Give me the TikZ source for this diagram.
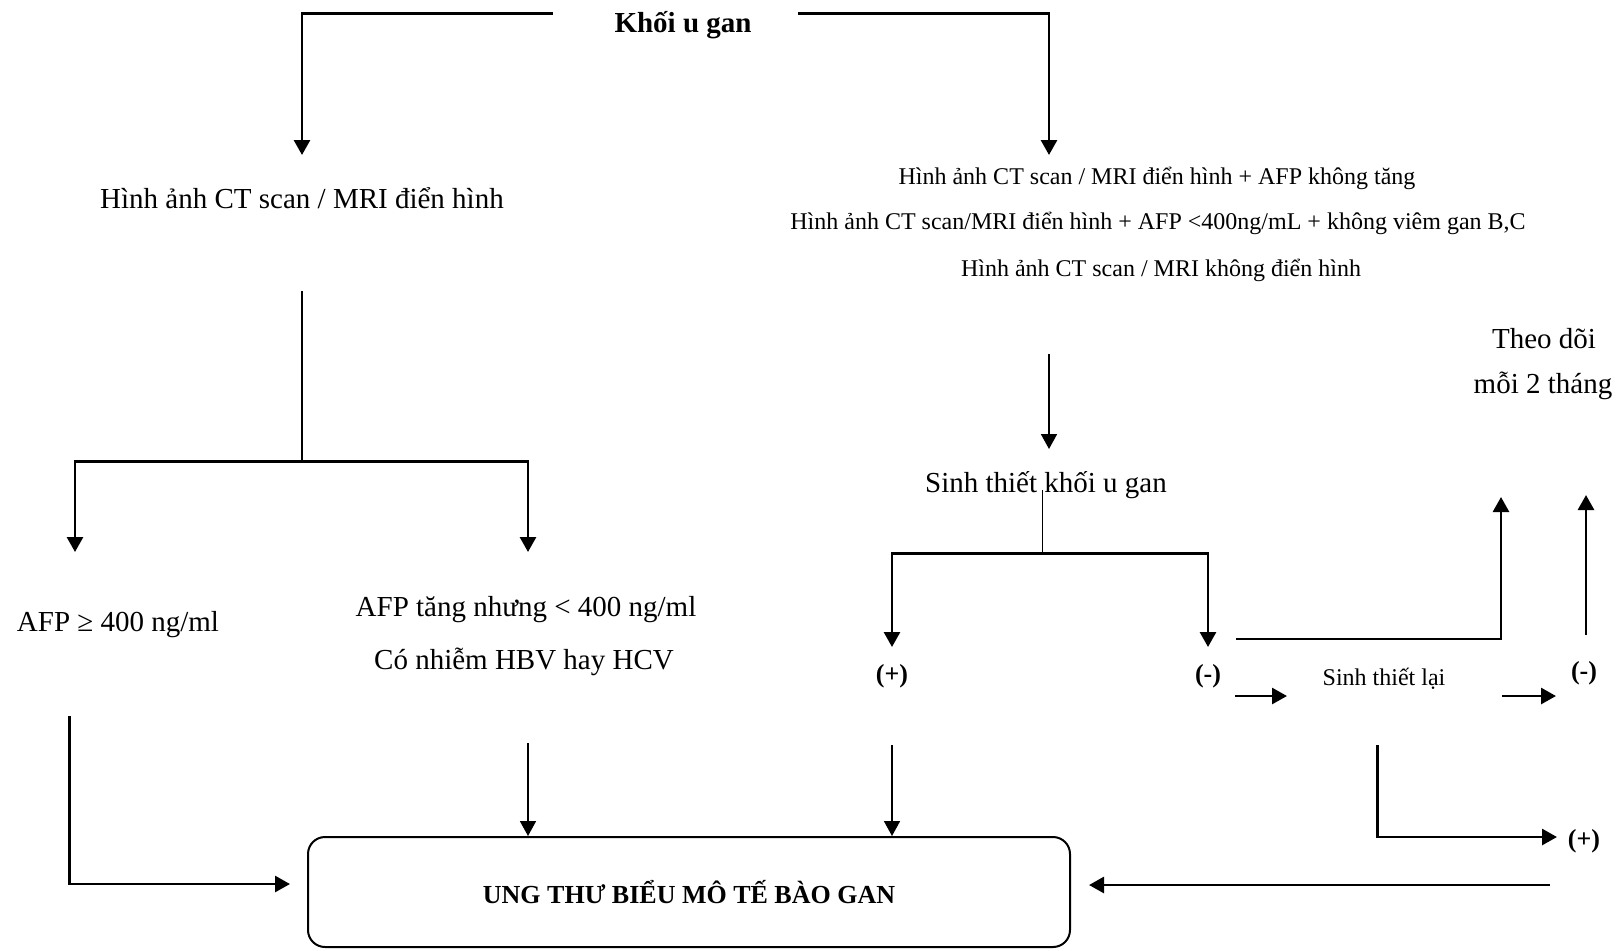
\documentclass[tikz,border=0pt]{standalone}
\usepackage{fontspec}
\setmainfont{Liberation Serif}
\usetikzlibrary{arrows.meta}
\begin{document}
\begin{tikzpicture}[x=0.5pt,y=-0.5pt,
  big/.style={anchor=base,inner sep=0pt,font=\fontsize{14.5}{17}\selectfont},
  sml/.style={anchor=base,inner sep=0pt,font=\fontsize{12}{14}\selectfont},
  pm/.style={anchor=base,inner sep=0pt,font=\fontsize{13}{15}\selectfont\bfseries},
  thk/.style={line width=1.4pt},
  thn/.style={line width=0.9pt},
  arr/.style={-{Triangle[length=7.5pt,width=8pt]}},
  boxed/.style={draw,line width=1pt,rounded corners=8.5pt,minimum width=381pt,minimum height=55pt,inner sep=0pt,font=\fontsize{13}{15}\selectfont\bfseries}
]
\useasboundingbox (0,0) rectangle (1623,950);

% ---------- text nodes ----------
\node[big,font=\fontsize{14.5}{17}\selectfont\bfseries] (khoi) at (683,32) {Khối u gan};
\node[big] (ct) at (302,208) {Hình ảnh CT scan / MRI điển hình};
\node[sml] (r1) at (1157,184) {Hình ảnh CT scan / MRI điển hình + AFP không tăng};
\node[sml] (r2) at (1158,229.5) {Hình ảnh CT scan/MRI điển hình + AFP <400ng/mL + không viêm gan B,C};
\node[sml] (r3) at (1161,276) {Hình ảnh CT scan / MRI không điển hình};
\node[big] (theo1) at (1544,348) {Theo dõi};
\node[big] (theo2) at (1543,393) {mỗi 2 tháng};
\node[big] (sinh) at (1046,492) {Sinh thiết khối u gan};
\node[big] (afp1) at (118,631.5) {AFP ≥ 400 ng/ml};
\node[big] (afp2) at (526,616.5) {AFP tăng nhưng < 400 ng/ml};
\node[big] (hbv) at (524,669) {Có nhiễm HBV hay HCV};
\node[pm] (pos1) at (892,682) {(+)};
\node[pm] (neg1) at (1208,682) {(-)};
\node[sml] (lai) at (1384,685) {Sinh thiết lại};
\node[pm] (neg2) at (1584,679) {(-)};
\node[pm] (pos2) at (1584,847) {(+)};
\node[boxed] (hcc) at (689,892) {UNG THƯ BIỂU MÔ TẾ BÀO GAN};

% ---------- coordinates ----------
\coordinate (kL) at (553,13.5);
\coordinate (kR) at (798,13.5);
\coordinate (ctIn) at (302,155);
\coordinate (rIn) at (1049,155);
\coordinate (ctOut) at (302,291);
\coordinate (lBar) at (302,461.5);
\coordinate (afp1In) at (75,552);
\coordinate (afp2In) at (528,552);
\coordinate (afp1Out) at (69.5,716);
\coordinate (afp2Out) at (528,743);
\coordinate (rOut) at (1049,354);
\coordinate (sinhIn) at (1049,449);
\coordinate (sinhOut) at (1042.5,490);
\coordinate (sBar) at (1042.5,553.5);
\coordinate (pos1In) at (892,647);
\coordinate (neg1In) at (1208,647);
\coordinate (pos1Out) at (892,745);
\coordinate (negUp) at (1236,639);
\coordinate (upTip1) at (1501,497);
\coordinate (neg2Out) at (1586,635);
\coordinate (upTip2) at (1586,495);
\coordinate (a1s) at (1235,696);
\coordinate (a1e) at (1287,696);
\coordinate (a2s) at (1502,696);
\coordinate (a2e) at (1556,696);
\coordinate (laiOut) at (1377.5,745);
\coordinate (pos2In) at (1557,837);
\coordinate (backS) at (1550,885);
\coordinate (backE) at (1089,885);
\coordinate (afp1End) at (290,884);

% ---------- connectors ----------
\draw[thk,arr] (kL) -| (ctIn);
\draw[thk,arr] (kR) -| (rIn);

\draw[thn] (ctOut) -- (lBar);
\draw[thk,arr] (lBar) -| (afp1In);
\draw[thk,arr] (lBar) -| (afp2In);
\draw[thk,arr] (afp1Out) |- (afp1End);
\draw[thn,arr] (afp2Out) -- (afp2Out |- hcc.north);

\draw[thn,arr] (rOut) -- (sinhIn);
\draw[thn] (sinhOut) -- (sBar);
\draw[thk,arr] (sBar) -| (pos1In);
\draw[thk,arr] (sBar) -| (neg1In);
\draw[thn,arr] (pos1Out) -- (pos1Out |- hcc.north);

\draw[thk,arr] (negUp) -| (upTip1);
\draw[thk,arr] (neg2Out) -- (upTip2);
\draw[thk,arr] (a1s) -- (a1e);
\draw[thk,arr] (a2s) -- (a2e);
\draw[thk,arr] (laiOut) |- (pos2In);
\draw[thk,arr] (backS) -- (backE);
\end{tikzpicture}
\end{document}
